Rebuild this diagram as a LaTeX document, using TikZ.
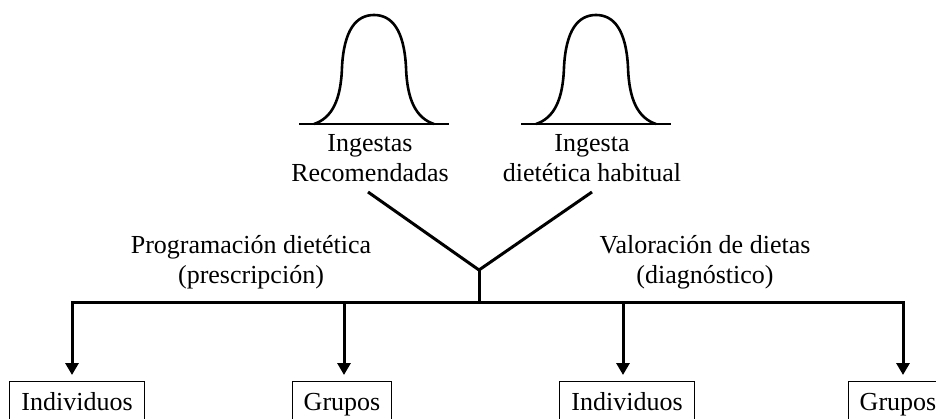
\documentclass[tikz,border=0pt]{standalone}
\usepackage{fontspec}
\setmainfont{Liberation Serif}
\usetikzlibrary{arrows.meta,positioning}

\tikzset{
	line/.style={line width=3pt},
	curve/.style={line width=2.6pt},
	tip/.style={-{Triangle[width=13pt,length=12pt]}},
	txt/.style={align=center,anchor=base,font=\fontsize{26}{30}\selectfont},
	box/.style={draw,line width=0.8pt,anchor=north,inner xsep=11.5pt,inner ysep=11pt,
		text height=18pt,text depth=6pt,outer sep=0pt,font=\fontsize{26}{30}\selectfont},
}

\begin{document}
\begin{tikzpicture}[x=1pt,y=-1pt]
		\useasboundingbox (0,0) rectangle (936,419);

		% curvas de distribucion
		\foreach \cx in {374,596} {
			\draw[curve] (\cx-75,124) -- (\cx+75,124);
			\draw[curve] (\cx-60,124) .. controls (\cx-42,118) and (\cx-33,100) .. (\cx-32,67)
				.. controls (\cx-30,30) and (\cx-18,15) .. (\cx,15)
				.. controls (\cx+18,15) and (\cx+30,30) .. (\cx+32,67)
				.. controls (\cx+33,100) and (\cx+42,118) .. (\cx+60,124);
		}

		% etiquetas (base = linea inferior)
		\node[txt] (ri) at (370,182) {Ingestas\\Recomendadas};
		\node[txt] (idh) at (592,182) {Ingesta\\dietética habitual};
		\node[txt] (prog) at (251,284) {Programación dietética\\(prescripción)};
		\node[txt] (val) at (705,284) {Valoración de dietas\\(diagnóstico)};

		\coordinate (ri-end) at (368,192);
		\coordinate (idh-end) at (592,192);
		\coordinate (fork) at (479,270);
		\coordinate (hub) at (479,303);

		\draw[line] (ri-end) -- (fork) -- (idh-end);
		\draw[line] (fork) -- (hub);

		\node[box] (ind1) at (77,381) {Individuos};
		\node[box] (grp1) at (342,381) {Grupos};
		\node[box] (ind2) at (627,381) {Individuos};
		\node[box] (grp2) at (898,381) {Grupos};

		\coordinate (d1) at (72,303);
		\coordinate (d2) at (344,303);
		\coordinate (d3) at (623,303);
		\coordinate (d4) at (903,303);

		\draw[line,{Triangle[width=13pt,length=12pt]}-{Triangle[width=13pt,length=12pt]},
			shorten <=6pt,shorten >=6pt] (d1 |- ind1.north) -- (d1) -- (d4) -- (d4 |- grp2.north);
		\draw[line,tip,shorten >=6pt] (d2) -- (d2 |- grp1.north);
		\draw[line,tip,shorten >=6pt] (d3) -- (d3 |- ind2.north);
	\end{tikzpicture}
\end{document}
